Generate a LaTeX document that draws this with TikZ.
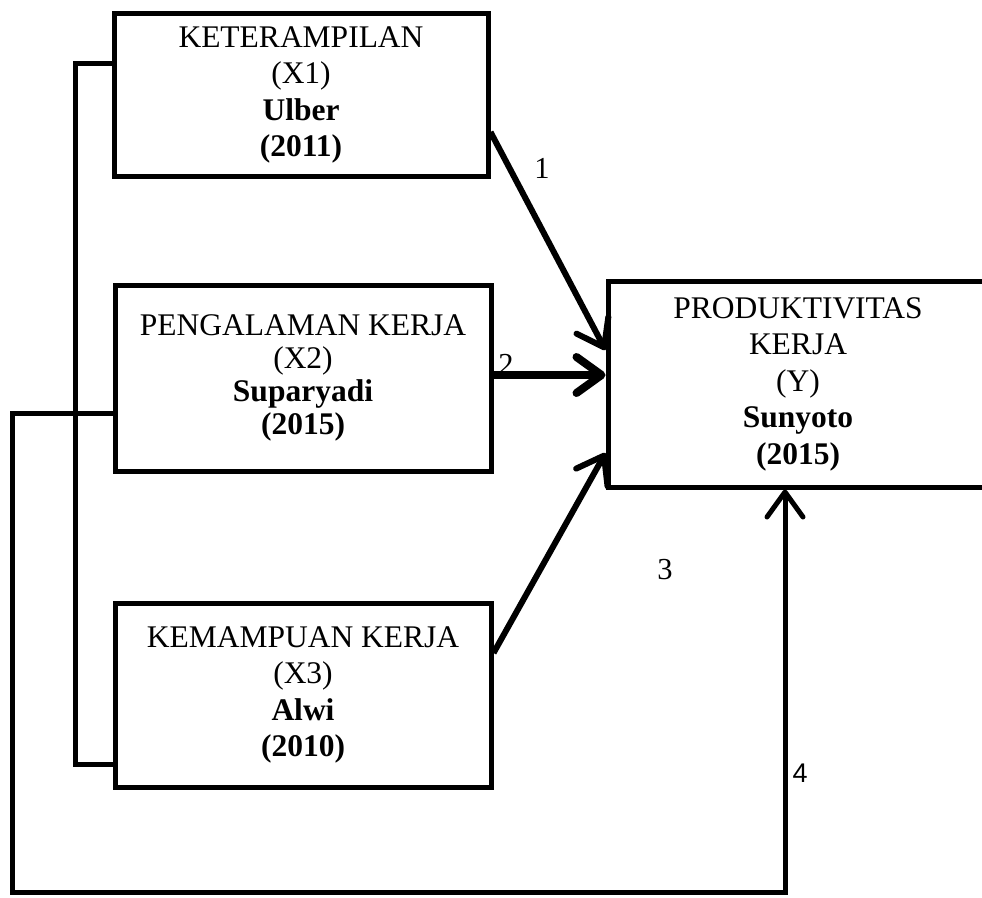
\documentclass[tikz,border=0pt]{standalone}
\usepackage{fontspec}
\setmainfont{Liberation Serif}
\newfontfamily\sansf{Liberation Sans}
\usetikzlibrary{arrows.meta}
\begin{document}
\begin{tikzpicture}[x=1pt,y=-1pt,
  box/.style={draw, line width=5pt, align=center, inner sep=0pt,
    font=\fontsize{31.5}{36.5}\selectfont},
  wire/.style={line width=5pt, line join=miter},
  barb/.style={-{Straight Barb[length=25pt,width=36pt,line cap=round,line join=round]}},
  arr/.style={line width=6pt, barb},
  lbl/.style={font=\fontsize{30.5}{34}\selectfont, inner sep=0pt}]
\path[use as bounding box] (0,0) rectangle (982,897);
\clip (0,0) rectangle (982,897);
% boxes
\node[box, minimum width=374pt, minimum height=163pt] (X1) at (301,95)
  {KETERAMPILAN\\(X1)\\\textbf{Ulber}\\\textbf{(2011)}};
\node[box, minimum width=376pt, minimum height=186pt,
  font=\fontsize{31.5}{33}\selectfont] (X2) at (303,378)
  {PENGALAMAN KERJA\\(X2)\\\textbf{Suparyadi}\\\textbf{(2015)}};
\node[box, minimum width=376pt, minimum height=184pt] (X3) at (303,695)
  {KEMAMPUAN KERJA\\(X3)\\\textbf{Alwi}\\\textbf{(2010)}};
\node[box, minimum width=380pt, minimum height=206pt] (Y) at (798,384)
  {PRODUKTIVITAS\\KERJA\\(Y)\\\textbf{Sunyoto}\\\textbf{(2015)}};
% labels
\node[lbl] (l1) at (542,168) {1};
\node[lbl] (l2) at (506,364) {2};
\node[lbl] (l3) at (665,570) {3};
\node[lbl, font=\sansf\fontsize{27}{30}\selectfont] (l4) at (800,773) {4};
% coordinates
\coordinate (b1) at (75,63);
\coordinate (b2) at (75,764);
\coordinate (c2) at (12,413);
\coordinate (c3) at (12,892);
\coordinate (c4) at (785,892);
\coordinate (s1) at (490,132);
\coordinate (e1) at (606,350);
\coordinate (s2) at (490,375);
\coordinate (s3) at (490,653);
\coordinate (e3) at (606,453);
% bracket
\draw[wire] (X1.west |- b1) -- (b1) -- (b2) -- (X3.west |- b2);
% outer loop
\draw[wire, barb] (X2.west |- c2) -- (c2) -- (c3) -- (c4) -- (c4 |- Y.south);
% arrows
\draw[arr] (X1.east |- s1) -- (Y.west |- e1);
\draw[arr, line width=8pt] (X2.east |- s2) -- (Y.west |- s2);
\draw[arr] (X3.east |- s3) -- (Y.west |- e3);
\end{tikzpicture}
\end{document}
